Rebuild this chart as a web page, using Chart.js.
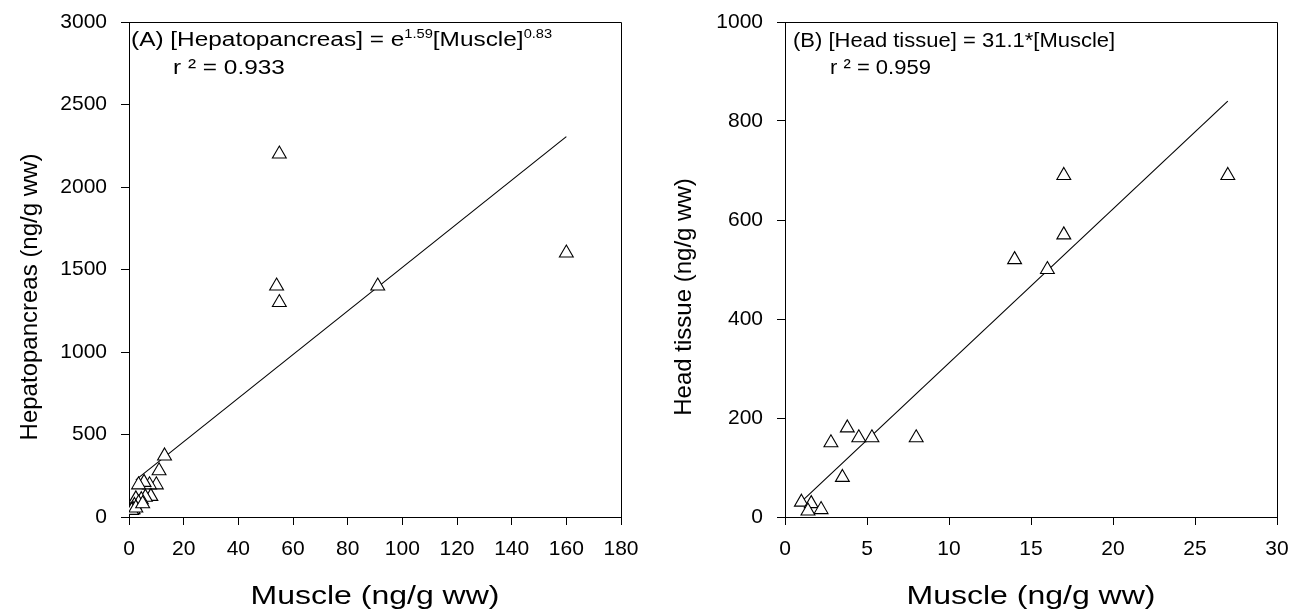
<!DOCTYPE html>
<html lang="en">
<head>
<meta charset="UTF-8">
<title>Muscle vs hepatopancreas / head tissue</title>
<script src="https://cdn.jsdelivr.net/npm/chart.js"></script>
<style>
  body { margin: 0; background: #fff; }
  .wrap { position: relative; width: 1294px; height: 613px; }
  .panel { position: absolute; top: 0; height: 613px; }
</style>
</head>
<body>
<div class="wrap">
  <div class="panel" style="left:0;width:650px"><canvas id="chartA" width="650" height="613"></canvas></div>
  <div class="panel" style="left:650px;width:644px"><canvas id="chartB" width="644" height="613"></canvas></div>
</div>

<script>
// panel A: muscle vs hepatopancreas (ng/g ww)
const muscleA = [55, 54, 55, 91, 160, 13, 11, 10, 7.5, 5.5, 3.5, 8, 6, 4.5, 2.5, 3.5, 2, 1.5, 1, 2.5, 5];
const hepatoA = [2200, 1400, 1300, 1400, 1600, 370, 280, 195, 195, 210, 195, 125, 120, 105, 110, 85, 70, 45, 40, 55, 80];
const fitMuscleA = [2.5, 160];
const fitHepatoA = [225, 2305];
const xTicksA = [0, 20, 40, 60, 80, 100, 120, 140, 160, 180];
const yTicksA = [0, 500, 1000, 1500, 2000, 2500, 3000];

// panel B: muscle vs head tissue (ng/g ww)
const muscleB = [27, 17, 17, 14, 16, 3.8, 2.8, 4.5, 5.3, 8, 3.5, 1.0, 1.6, 2.2, 1.4];
const headB = [690, 690, 570, 520, 500, 180, 150, 160, 160, 160, 80, 30, 27, 15, 12];
const fitMuscleB = [1, 27];
const fitHeadB = [31, 840];
const xTicksB = [0, 5, 10, 15, 20, 25, 30];
const yTicksB = [0, 200, 400, 600, 800, 1000];

const FONT = "'Liberation Sans', Arial, sans-serif";

function toPoints(xs, ys) {
  return xs.map((x, i) => ({ x: x, y: ys[i] }));
}

// text drawn a bit wider than the font, like the scanned figure
function wideText(ctx, parts, x, y, sx, size, supSize) {
  ctx.save();
  ctx.translate(x, y);
  ctx.scale(sx, 1);
  let cx = 0;
  parts.forEach(p => {
    ctx.font = (p.sup ? supSize : size) + 'px ' + FONT;
    ctx.fillText(p.t, cx, p.sup ? -8 : 0);
    cx += ctx.measureText(p.t).width;
  });
  ctx.restore();
}

// box round the plot, axis titles and the equation text
function extras(o) {
  return {
    id: 'extras',
    afterDraw(chart) {
      const ctx = chart.ctx;
      const a = chart.chartArea;
      ctx.save();
      ctx.strokeStyle = '#000';
      ctx.lineWidth = 1;
      ctx.beginPath();
      ctx.moveTo(Math.round(a.left) + 0.5, Math.round(a.top) + 0.5);
      ctx.lineTo(Math.round(a.right) + 0.5, Math.round(a.top) + 0.5);
      ctx.lineTo(Math.round(a.right) + 0.5, Math.round(a.bottom) + 0.5);
      ctx.stroke();

      ctx.fillStyle = '#000';
      ctx.textBaseline = 'middle';
      ctx.textAlign = 'center';
      // x title
      ctx.save();
      ctx.translate((a.left + a.right) / 2, 597);
      ctx.scale(1.28, 1);
      ctx.font = '25px ' + FONT;
      ctx.fillText('Muscle (ng/g ww)', 0, 0);
      ctx.restore();
      // y title
      ctx.translate(o.titleX, o.titleY);
      ctx.rotate(-Math.PI / 2);
      ctx.font = '24px ' + FONT;
      ctx.fillText(o.yTitle, 0, 0);
      ctx.restore();

      ctx.save();
      ctx.fillStyle = '#000';
      ctx.textAlign = 'left';
      ctx.textBaseline = 'alphabetic';
      o.lines.forEach(l => wideText(ctx, l.parts, l.x, l.y, o.sx, 20, 12));
      ctx.restore();
    }
  };
}

function panel(id, c) {
  const tickFont = { family: FONT, size: 21 };
  return new Chart(document.getElementById(id), {
    type: 'scatter',
    data: {
      datasets: [
        {
          data: toPoints(c.xs, c.ys),
          pointStyle: 'triangle',
          pointRadius: 8,
          pointHoverRadius: 8,
          borderColor: '#000',
          backgroundColor: '#fff',
          borderWidth: 1.1
        },
        {
          type: 'line',
          data: toPoints(c.fitX, c.fitY),
          borderColor: '#000',
          borderWidth: 1.1,
          pointRadius: 0,
          fill: false
        }
      ]
    },
    options: {
      responsive: false,
      animation: false,
      events: [],
      layout: { padding: { top: 22, right: c.padRight, left: 0, bottom: 0 } },
      plugins: { legend: { display: false }, tooltip: { enabled: false } },
      scales: {
        x: {
          type: 'linear',
          min: c.xTicks[0],
          max: c.xTicks[c.xTicks.length - 1],
          afterBuildTicks: s => { s.ticks = c.xTicks.map(v => ({ value: v })); },
          afterFit: s => { s.height = 96; s.paddingLeft = 0; s.paddingRight = 0; },
          ticks: { color: '#000', font: tickFont, padding: 12, maxRotation: 0, callback: v => String(v) },
          grid: { drawOnChartArea: false, drawTicks: true, tickLength: 8, color: '#000' },
          border: { display: true, color: '#000', width: 1 }
        },
        y: {
          type: 'linear',
          min: c.yTicks[0],
          max: c.yTicks[c.yTicks.length - 1],
          afterBuildTicks: s => { s.ticks = c.yTicks.map(v => ({ value: v })); },
          afterFit: s => { s.width = c.yWidth; s.paddingTop = 0; s.paddingBottom = 0; },
          ticks: { color: '#000', font: tickFont, padding: 14, callback: v => String(v) },
          grid: { drawOnChartArea: false, drawTicks: true, tickLength: 8, color: '#000' },
          border: { display: true, color: '#000', width: 1 }
        }
      }
    },
    plugins: [extras(c.extra)]
  });
}

panel('chartA', {
  xs: muscleA, ys: hepatoA, fitX: fitMuscleA, fitY: fitHepatoA,
  xTicks: xTicksA, yTicks: yTicksA, yWidth: 129, padRight: 29,
  extra: {
    yTitle: 'Hepatopancreas (ng/g ww)', titleX: 30, titleY: 297, sx: 1.22,
    lines: [
      { x: 131, y: 46, parts: [{ t: '(A) [Hepatopancreas] = e' }, { t: '1.59', sup: true }, { t: '[Muscle]' }, { t: '0.83', sup: true }] },
      { x: 173, y: 74, parts: [{ t: 'r ² = 0.933' }] }
    ]
  }
});

panel('chartB', {
  xs: muscleB, ys: headB, fitX: fitMuscleB, fitY: fitHeadB,
  xTicks: xTicksB, yTicks: yTicksB, yWidth: 135, padRight: 17,
  extra: {
    yTitle: 'Head tissue (ng/g ww)', titleX: 34, titleY: 297, sx: 1.1,
    lines: [
      { x: 143, y: 47, parts: [{ t: '(B) [Head tissue] = 31.1*[Muscle]' }] },
      { x: 180, y: 74, parts: [{ t: 'r ² = 0.959' }] }
    ]
  }
});
</script>
</body>
</html>
